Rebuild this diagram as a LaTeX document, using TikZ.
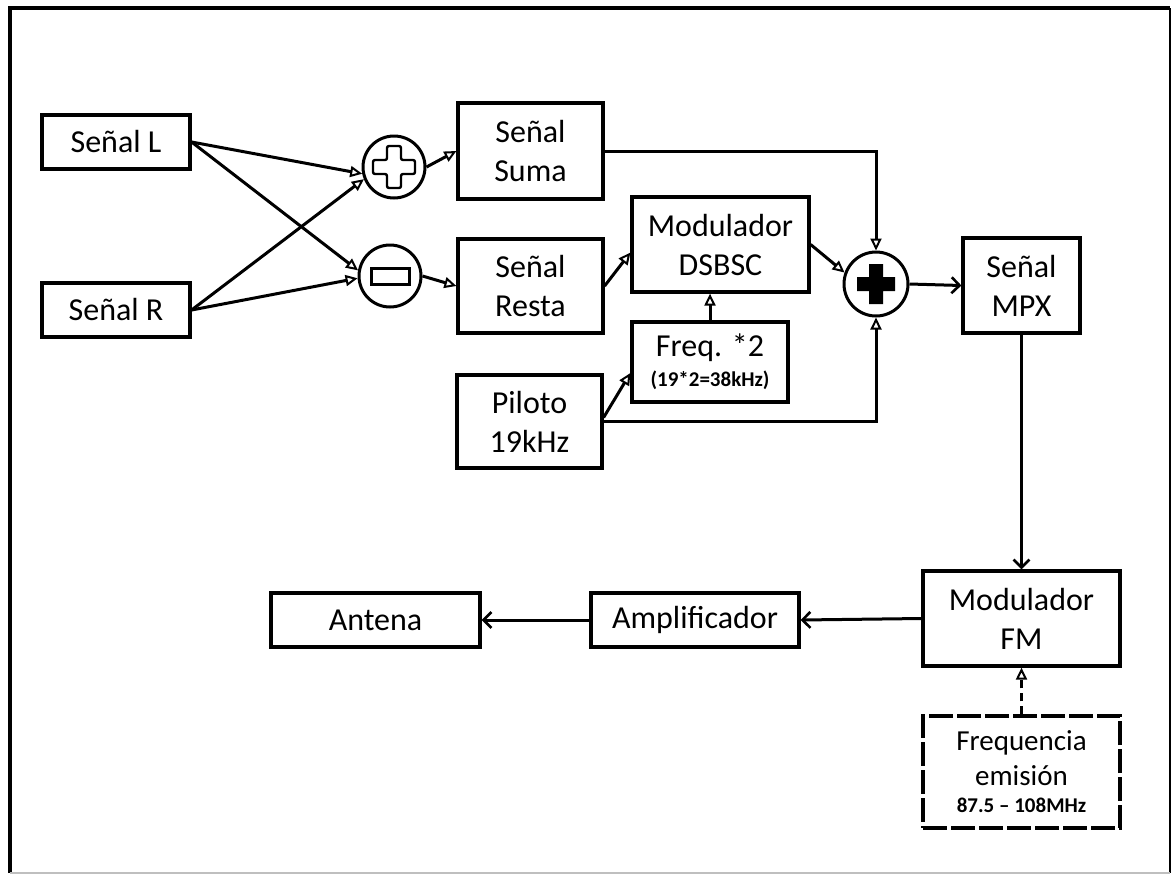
\documentclass[tikz,border=0pt]{standalone}
\usepackage{fontspec}
\setmainfont{Carlito}
\usetikzlibrary{arrows.meta}
\begin{document}
\begin{tikzpicture}[x=1pt,y=-1pt,
  box/.style={draw, line width=3.2pt, align=center, inner sep=0pt, font=\fontsize{32}{39}\selectfont},
  sumc/.style={draw, circle, line width=3pt, minimum size=62pt, inner sep=0pt},
  conn/.style={line width=3pt},
  oarr/.style={conn, -{Triangle[open, length=12pt, width=11pt, line width=2pt]}},
  varr/.style={conn, -{Straight Barb[length=8pt, width=16pt, line width=2.6pt]}},
]
\useasboundingbox[fill=white] (0,0) rectangle (1172,876);
% outer frame
\draw[line width=3.5pt] (10,873) -- (10,8) -- (1170,8);
\draw[line width=1.8pt] (1170,8) -- (1170,873);
\draw[line width=1.5pt, black!25] (10,873) -- (1170,873);

% nodes
\node[box, minimum width=148pt, minimum height=54pt] (sL) at (116,142) {Señal L};
\node[box, minimum width=148pt, minimum height=54pt] (sR) at (116,310) {Señal R};
\node[sumc] (plus1) at (394,167) {};
\node[sumc] (minus) at (390,276) {};
\node[box, minimum width=145pt, minimum height=96pt] (suma) at (530.5,151) {Señal\\Suma};
\node[box, minimum width=145pt, minimum height=94pt] (resta) at (530.5,286) {Señal\\Resta};
\node[box, minimum width=177pt, minimum height=95pt] (dsbsc) at (720.5,244.5) {Modulador\\DSBSC};
\node[box, minimum width=156pt, minimum height=80pt] (freq) at (710,362) {Freq. *2\\[-9pt]{\fontsize{21}{25}\selectfont\bfseries (19*2=38kHz)}};
\node[box, minimum width=145pt, minimum height=93pt] (piloto) at (529.5,421.5) {Piloto\\19kHz};
\node[sumc, minimum size=64pt] (bigplus) at (876,284) {};
\node[box, minimum width=117pt, minimum height=95pt] (mpx) at (1021.5,285.5) {Señal\\MPX};
\node[box, minimum width=197pt, minimum height=95pt] (fm) at (1021.5,618.5) {Modulador\\FM};
\node[box, dash pattern=on 24pt off 4pt, minimum width=197pt, minimum height=112pt, font=\fontsize{29}{35}\selectfont] (freqem) at (1021.5,772) {Frequencia\\emisión\\[-8pt]{\fontsize{21}{25}\selectfont\bfseries 87.5 – 108MHz}};
\node[box, minimum width=208pt, minimum height=54pt] (amp) at (695,620) {Amplificador};
\node[box, minimum width=209pt, minimum height=54pt] (antena) at (375.5,620) {Antena};

% symbols in summing circles
\draw[shift={(plus1.center)}, line width=2.4pt, rounded corners=2pt]
  (-7,-21) -- (7,-21) -- (7,-7) -- (21,-7) -- (21,7) -- (7,7) -- (7,21)
  -- (-7,21) -- (-7,7) -- (-21,7) -- (-21,-7) -- (-7,-7) -- cycle;
\draw[shift={(minus.center)}, line width=3pt] (-19,-8) rectangle (19,8);
\fill[shift={(bigplus.center)}]
  (-7,-20) -- (7,-20) -- (7,-7) -- (19,-7) -- (19,7) -- (7,7) -- (7,20)
  -- (-7,20) -- (-7,7) -- (-19,7) -- (-19,-7) -- (-7,-7) -- cycle;

% connectors
\draw[oarr] (sL.east) -- (plus1.192);
\draw[oarr] (sL.east) -- (minus.170);
\draw[oarr] (sR.east) -- (plus1.202);
\draw[oarr] (sR.east) -- (minus.184);
\draw[oarr] (plus1.east) -- (suma.west);
\draw[oarr] (minus.east) -- (resta.west);
\draw[oarr] (resta.east) -- ([yshift=-8pt]dsbsc.west);
\draw[oarr] (freq.north) -- (freq.north |- dsbsc.south);
\draw[oarr] ([yshift=4pt]piloto.east) -- ([yshift=-11pt]freq.west);
\draw[oarr] (piloto.east) -| (bigplus.south);
\draw[oarr] (suma.east) -| (bigplus.north);
\draw[oarr] (dsbsc.east) -- (bigplus.160);
\draw[varr] (bigplus.east) -- (mpx.west);
\draw[varr] (mpx.south) -- (fm.north);
\draw[varr] (fm.west) -- (amp.east);
\draw[varr] (amp.west) -- (antena.east);
\draw[oarr, dash pattern=on 8pt off 5pt] (freqem.north) -- (fm.south);
\end{tikzpicture}
\end{document}
